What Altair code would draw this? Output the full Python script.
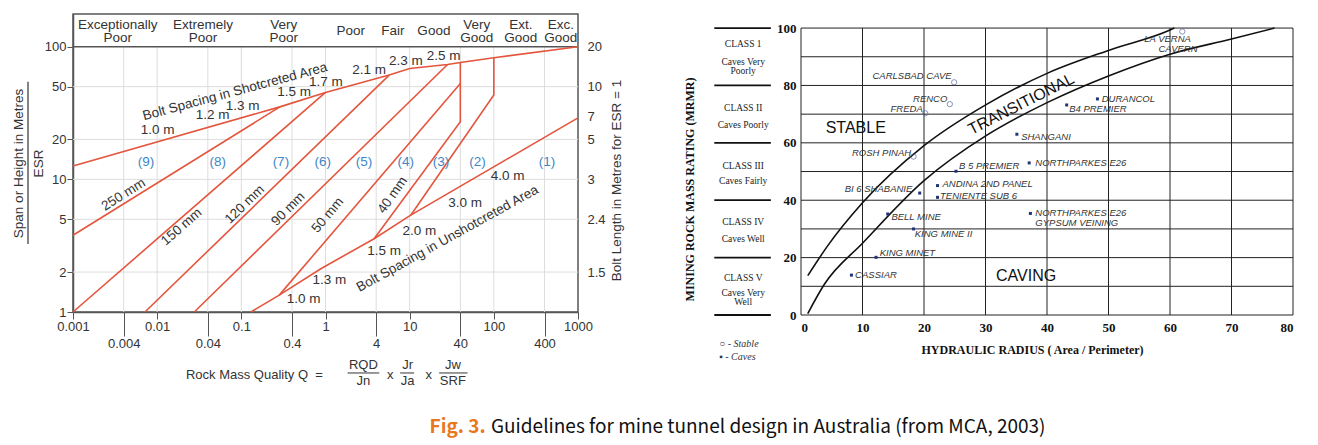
import altair as alt
import pandas as pd

# ================= LEFT PANEL : Q-system support chart =================
Q_TICKS = [0.001, 0.004, 0.01, 0.04, 0.1, 0.4, 1, 4, 10, 40, 100, 400, 1000]
Q_GRID = [0.004, 0.01, 0.04, 0.1, 0.4, 1, 4, 10, 40, 100, 400]
SPAN_TICKS = [1, 2, 5, 10, 20, 50, 100]
SPAN_GRID = [2, 5, 10, 20, 50]
BOLT_AT_SPAN = [2, 5, 10, 20, 30, 50, 100]
BOLT_LENGTH = ["1.5", "2.4", "3", "5", "7", "10", "20"]

UPPER_Q = [0.001, 0.287, 1.0, 5.71, 10.0, 28.2, 40.0, 100.0, 1000.0]
UPPER_S = [12.6, 35.2, 45.2, 61.1, 68.6, 73.5, 76.1, 82.6, 100.0]
LOWER_Q = [0.13, 0.282, 0.88, 3.78, 10.3, 1000.0]
LOWER_S = [1.0, 1.34, 2.12, 3.57, 5.37, 29.1]
L250_Q = [0.001, 0.287]
L250_S = [3.79, 35.2]
L150_Q = [0.001, 1.0]
L150_S = [1.0, 45.2]
L120_Q = [0.00716, 5.71]
L120_S = [1.0, 61.1]
L90_Q = [0.0276, 28.2]
L90_S = [1.0, 73.5]
L50_Q = [0.282, 40.0]
L50_S = [1.34, 52.8]
L40_Q = [3.78, 40.0, 40.0]
L40_S = [3.57, 27.2, 76.1]
L32_Q = [10.3, 100.0, 100.0]
L32_S = [5.37, 43.2, 82.6]

CLASS_NAMES = ["Exceptionally\nPoor", "Extremely\nPoor", "Very\nPoor", "Poor", "Fair",
               "Good", "Very\nGood", "Ext.\nGood", "Exc.\nGood"]
CLASS_Q = [0.0034, 0.035, 0.32, 2.0, 6.3, 19.4, 62.8, 209, 625]
CLASS_S = [146.6, 146.6, 146.6, 132, 132, 132, 146.6, 146.6, 146.6]

REGION_NAMES = ["(9)", "(8)", "(7)", "(6)", "(5)", "(4)", "(3)", "(2)", "(1)"]
REGION_Q = [0.00736, 0.0523, 0.295, 0.93, 2.86, 9.0, 23.5, 64.0, 427]
REGION_S = 13.5

LAB_TEXT = ["Bolt Spacing in Shotcreted Area", "1.0 m", "1.2 m", "1.3 m", "1.5 m", "1.7 m",
            "2.1 m", "2.3 m", "2.5 m", "1.0 m", "1.3 m", "1.5 m", "2.0 m", "3.0 m", "4.0 m",
            "Bolt Spacing in Unshotcreted Area", "250 mm", "150 mm", "120 mm", "90 mm",
            "50 mm", "40 mm"]
LAB_Q = [0.084, 0.0101, 0.0456, 0.1036, 0.425, 1.01, 3.30, 9.02, 25.3, 0.55, 1.11, 4.98,
         13.0, 45.6, 145.6, 28.2, 0.00398, 0.0195, 0.1096, 0.360, 1.06, 6.26]
LAB_S = [45.8, 23.5, 30.5, 35.9, 45.7, 54.4, 66.7, 78.4, 85.1, 1.26, 1.73, 2.87, 4.06,
         6.68, 10.6, 3.57, 7.68, 4.38, 6.46, 5.98, 5.37, 7.60]
LAB_ANGLE = [345, 0, 0, 0, 0, 0, 0, 0, 0, 0, 0, 0, 0, 0, 0, 331, 328, 319, 316, 315, 310, 305]

FORM_TEXT = ["RQD", "Jn", "x", "Jr", "Ja", "x", "Jw", "SRF"]
FORM_Q = [2.82, 2.82, 5.87, 9.44, 9.44, 16.8, 32.6, 32.6]
FORM_S = [0.40, 0.30, 0.337, 0.40, 0.30, 0.337, 0.40, 0.30]
BAR_Q1 = [1.83, 7.71, 22.4]
BAR_Q2 = [4.35, 11.3, 48.8]
BAR_S = 0.347

CAP_FIG = ["Fig. 3."]
CAP_TEXT = ["Guidelines for mine tunnel design in Australia (from MCA, 2003)"]
CAP_Q = [80.0, 92.5]
CAP_S = 0.1355

RED = "#e4553d"
GREY = "#333333"
SANS = "Liberation Sans"

lines_rows = []
for name, qs, ss in [("upper", UPPER_Q, UPPER_S), ("lower", LOWER_Q, LOWER_S),
                     ("250", L250_Q, L250_S), ("150", L150_Q, L150_S),
                     ("120", L120_Q, L120_S), ("90", L90_Q, L90_S),
                     ("50", L50_Q, L50_S), ("40", L40_Q, L40_S), ("32", L32_Q, L32_S)]:
    for i, (q, s) in enumerate(zip(qs, ss)):
        lines_rows.append({"line": name, "ord": i, "Q": q, "S": s})
lines_df = pd.DataFrame(lines_rows)

xs = alt.Scale(type="log", domain=[0.001, 1000], nice=False)
S_DOMAIN = [1, 176.5]

four_test = "indexof([0.004,0.04,0.4,4,40,400], datum.value) >= 0"
x_axis = alt.Axis(values=Q_TICKS, format="~g", grid=False,
                  tickSize={"condition": {"test": four_test, "value": 24}, "value": 7},
                  tickColor="#555", labelPadding=1, labelFont=SANS, labelFontSize=13,
                  labelColor=GREY, domainColor="#555", domainWidth=1.5, labelFlush=False)
y_axis = alt.Axis(orient="left", values=SPAN_TICKS, format="~g", grid=False, tickSize=6,
                  tickColor="#555", labelPadding=1, labelFont=SANS, labelFontSize=13,
                  labelColor=GREY, domainColor="#555", domainWidth=1.5,
                  title=["Span or Height in Metres", "ESR"], titleFont=SANS,
                  titleFontSize=13.5, titleFontWeight="normal", titleColor=GREY,
                  titleAngle=270, titleX=-48, titleY=149, titleBaseline="bottom",
                  titleLineHeight=20, titleAlign="center")
bolt_expr = " : ".join([f"datum.value == {p} ? '{l}'" for p, l in zip(BOLT_AT_SPAN, BOLT_LENGTH)]) + " : ''"
right_axis = alt.Axis(orient="right", values=BOLT_AT_SPAN, labelExpr=bolt_expr, ticks=False,
                      domain=False, grid=False, labelPadding=9, labelFont=SANS, labelFontSize=13,
                      labelColor=GREY, title="Bolt Length in Metres for ESR = 1", titleFont=SANS,
                      titleFontSize=13.5, titleFontWeight="normal", titleColor=GREY, titleAngle=270,
                      titleX=38, titleY=166, titleBaseline="middle", titleAlign="center")


def X(axis=None):
    if axis is None:
        return alt.X("Q:Q", scale=xs, title=None)
    return alt.X("Q:Q", scale=xs, title=None, axis=axis)


def Y(axis=None):
    sc = alt.Scale(type="log", domain=S_DOMAIN, nice=False)
    if axis is None:
        return alt.Y("S:Q", scale=sc, axis=None)
    return alt.Y("S:Q", scale=sc, axis=axis)


gv_df = pd.DataFrame({"Q": Q_GRID, "S": [1] * len(Q_GRID), "S2": [100] * len(Q_GRID)})
gh_df = pd.DataFrame({"S": SPAN_GRID, "Q": [0.001] * len(SPAN_GRID), "Q2": [1000] * len(SPAN_GRID)})
grid_v = alt.Chart(gv_df).mark_rule(color="#dddddd", strokeWidth=1).encode(
    x=X(x_axis), y=Y(y_axis), y2="S2:Q")
grid_h = alt.Chart(gh_df).mark_rule(color="#dddddd", strokeWidth=1).encode(
    x=X(), x2="Q2:Q", y=Y())
head_line = alt.Chart(pd.DataFrame({"Q": [0.001], "Q2": [1000], "S": [100]})).mark_rule(
    color="#555", strokeWidth=1.5).encode(x=X(), x2="Q2:Q", y=Y())
lines = alt.Chart(lines_df).mark_line(color=RED, strokeWidth=1.6).encode(
    x=X(), y=Y(), detail="line:N", order="ord:Q")
lab_df = pd.DataFrame({"txt": LAB_TEXT, "Q": LAB_Q, "S": LAB_S, "ang": LAB_ANGLE})
labels = alt.Chart(lab_df).mark_text(font=SANS, fontSize=13.5, color=GREY).encode(
    x=X(), y=Y(), text="txt:N", angle=alt.Angle("ang:Q", scale=None))
cls_df = pd.DataFrame({"txt": CLASS_NAMES, "Q": CLASS_Q, "S": CLASS_S})
classes = alt.Chart(cls_df).mark_text(font=SANS, fontSize=13.5, color=GREY, lineBreak="\n",
                                      lineHeight=13, baseline="middle").encode(
    x=X(), y=Y(), text="txt:N")
form_df = pd.DataFrame({"txt": FORM_TEXT, "Q": FORM_Q, "S": FORM_S})
formula = alt.Chart(form_df).mark_text(font=SANS, fontSize=13, color=GREY).encode(
    x=X(), y=Y(), text="txt:N")
bars_df = pd.DataFrame({"Q": BAR_Q1, "Q2": BAR_Q2, "S": [BAR_S] * 3})
bars = alt.Chart(bars_df).mark_rule(color=GREY, strokeWidth=1).encode(x=X(), x2="Q2:Q", y=Y())
rmq = alt.Chart(pd.DataFrame({"txt": ["Rock Mass Quality Q\u00a0\u00a0="], "Q": [0.93], "S": [0.337]})).mark_text(
    font=SANS, fontSize=13, color=GREY, align="right").encode(x=X(), y=Y(), text="txt:N")
frac = alt.Chart(pd.DataFrame({"Q": [0.000292], "S": [54.5], "S2": [3.26]})).mark_rule(
    color=GREY, strokeWidth=1.2).encode(x=X(), y=Y(), y2="S2:Q")
reg_df = pd.DataFrame({"txt": REGION_NAMES, "Q": REGION_Q, "S": [REGION_S] * len(REGION_Q)})
regions = alt.Chart(reg_df).mark_text(font=SANS, fontSize=13.5, color="#3f86c6").encode(
    x=X(), y=Y(right_axis), text="txt:N")
cap_a = alt.Chart(pd.DataFrame({"t": CAP_FIG, "Q": CAP_Q[:1], "S": [CAP_S]})).mark_text(
    font="Noto Sans CJK KR", fontSize=19, fontWeight="bold", color="#e8771e", align="right").encode(
    x=X(), y=Y(), text="t:N")
cap_b = alt.Chart(pd.DataFrame({"t": CAP_TEXT, "Q": CAP_Q[1:], "S": [CAP_S]})).mark_text(
    font="Noto Sans CJK KR", fontSize=19, color="#111", align="left").encode(
    x=X(), y=Y(), text="t:N")

left = alt.layer(grid_v, grid_h, head_line, lines, labels, classes, formula, bars, rmq, frac,
                 regions, cap_a, cap_b).resolve_scale(y="independent").properties(
    width=505, height=298, view=alt.ViewBackground(stroke="#555", strokeWidth=1.5))

# ================= RIGHT PANEL : Laubscher stability graph =================
HR_TICKS = [0, 10, 20, 30, 40, 50, 60, 70, 80]
MRMR_TICKS = [0, 10, 20, 30, 40, 50, 60, 70, 80, 90, 100]
UP_HR = [1.1, 4.3, 10.0, 20.0, 30.1, 40.1, 50.1, 60.0, 60.7]
UP_M = [13.7, 24.0, 39.1, 59.0, 73.3, 84.3, 92.3, 99.3, 100.0]
LO_HR = [1.1, 3.8, 10.0, 20.0, 30.1, 40.1, 50.1, 60.0, 70.0, 77.0]
LO_M = [0.5, 10.7, 25.0, 46.8, 62.5, 74.1, 83.4, 90.9, 96.2, 100.0]

STABLE_HR = [24.9, 24.2, 20.2, 18.3, 62.0]
STABLE_M = [81.1, 73.5, 70.3, 55.2, 98.8]
CAVE_HR = [8.2, 12.2, 18.3, 14.1, 19.3, 22.2, 22.2, 25.2, 37.1, 37.3, 35.1, 43.2, 48.2]
CAVE_M = [13.9, 20.1, 30.0, 35.2, 42.5, 41.0, 45.1, 50.1, 53.0, 35.4, 63.0, 73.2, 75.3]

NAME_R = ["CARLSBAD CAVE", "RENCO", "FREDA", "ROSH PINAH", "BI 6 SHABANIE"]
NAME_R_HR = [24.5, 23.8, 19.8, 17.9, 18.1]
NAME_R_M = [83.4, 75.3, 71.8, 56.3, 43.9]
NAME_L = ["CASSIAR", "KING MINET", "KING MINE II", "BELL MINE", "ANDINA 2ND PANEL",
          "TENIENTE SUB 6", "B 5 PREMIER", "NORTHPARKES E26", "NORTHPARKES E26",
          "GYPSUM VEINING", "SHANGANI", "B4 PREMIER", "DURANCOL"]
NAME_L_HR = [8.8, 12.8, 18.5, 14.7, 23.0, 22.6, 25.7, 38.1, 38.1, 38.1, 35.8, 43.6, 48.9]
NAME_L_M = [13.9, 21.6, 28.2, 34.0, 45.6, 41.3, 51.8, 52.8, 35.4, 32.1, 61.9, 71.8, 75.3]
NAME_C = ["LA VERNA", "CAVERN"]
NAME_C_HR = [59.6, 61.3]
NAME_C_M = [96.2, 92.7]

ZONE_TEXT = ["STABLE", "CAVING", "TRANSITIONAL"]
ZONE_HR = [8.9, 36.6, 35.8]
ZONE_M = [65.2, 13.7, 73.5]
ZONE_ANGLE = [0, 0, 333]

CLASS_BOUNDS = [100, 80, 60, 40, 20, 0]
CLASS_TEXT = ["CLASS 1", "Caves Very", "Poorly", "CLASS II", "Caves Poorly", "CLASS III",
              "Caves Fairly", "CLASS IV", "Caves Well", "CLASS V", "Caves Very", "Well"]
CLASS_TEXT_M = [94.3, 88.3, 85.0, 72.2, 66.2, 51.9, 46.7, 32.5, 26.4, 13.0, 7.8, 4.6]
LEGEND_TEXT = ["\u25cb - Stable", "\u25aa - Caves"]
LEGEND_M = [-10.2, -14.5]

SERIF = "Liberation Serif"
HX_TITLE = "HYDRAULIC RADIUS  ( Area / Perimeter)"
MY_TITLE = "MINING ROCK MASS RATING (MRMR)"
hsc = alt.Scale(domain=[0, 80], nice=False)
msc = alt.Scale(domain=[0, 104.9], nice=False)

hx_axis = alt.Axis(values=HR_TICKS, grid=False, ticks=False, domain=False, labelPadding=6,
                   labelFont=SERIF, labelFontWeight="bold", labelFontSize=13, labelColor="#111",
                   titleFont=SERIF, titleFontSize=12, titleFontWeight="bold", titleColor="#111",
                   titleX=231, titleY=34, titleBaseline="middle", titleAlign="center")
my_axis = alt.Axis(values=MRMR_TICKS, grid=False, ticks=False, domain=False, labelPadding=5,
                   labelFont=SERIF, labelFontWeight="bold", labelFontSize=13, labelColor="#111",
                   titleFont=SERIF, titleFontSize=12, titleFontWeight="bold", titleColor="#111",
                   titleAngle=270, titleX=-112, titleY=175, titleBaseline="middle",
                   titleAlign="center")


def HX(axis=None):
    if axis is None:
        return alt.X("hr:Q", scale=hsc, title=HX_TITLE)
    return alt.X("hr:Q", scale=hsc, title=HX_TITLE, axis=axis)


def MY(axis=None):
    if axis is None:
        return alt.Y("m:Q", scale=msc, title=MY_TITLE)
    return alt.Y("m:Q", scale=msc, title=MY_TITLE, axis=axis)


gvr = alt.Chart(pd.DataFrame({"hr": HR_TICKS, "m": [0] * 9, "m2": [100] * 9})).mark_rule(
    color="#222", strokeWidth=1).encode(x=HX(hx_axis), y=MY(my_axis), y2="m2:Q")
ghr = alt.Chart(pd.DataFrame({"m": MRMR_TICKS, "hr": [0] * 11, "hr2": [80] * 11})).mark_rule(
    color="#222", strokeWidth=1).encode(x=HX(), x2="hr2:Q", y=MY())
curve_rows = []
for name, hs, ms in [("up", UP_HR, UP_M), ("lo", LO_HR, LO_M)]:
    for i, (h, m) in enumerate(zip(hs, ms)):
        curve_rows.append({"c": name, "ord": i, "hr": h, "m": m})
curves = alt.Chart(pd.DataFrame(curve_rows)).mark_line(
    color="#111", strokeWidth=1.6, interpolate="monotone").encode(
    x=HX(), y=MY(), detail="c:N", order="ord:Q")
stable = alt.Chart(pd.DataFrame({"hr": STABLE_HR, "m": STABLE_M})).mark_point(
    shape="circle", size=28, filled=False, color="#5566a0", strokeWidth=1).encode(x=HX(), y=MY())
caves = alt.Chart(pd.DataFrame({"hr": CAVE_HR, "m": CAVE_M})).mark_point(
    shape="square", size=9, filled=True, color="#223377", opacity=1).encode(x=HX(), y=MY())
txt_style = dict(font=SANS, fontSize=9.5, fontStyle="italic", color="#333")
lab_r = alt.Chart(pd.DataFrame({"t": NAME_R, "hr": NAME_R_HR, "m": NAME_R_M})).mark_text(
    align="right", **txt_style).encode(x=HX(), y=MY(), text="t:N")
lab_l = alt.Chart(pd.DataFrame({"t": NAME_L, "hr": NAME_L_HR, "m": NAME_L_M})).mark_text(
    align="left", **txt_style).encode(x=HX(), y=MY(), text="t:N")
lab_c = alt.Chart(pd.DataFrame({"t": NAME_C, "hr": NAME_C_HR, "m": NAME_C_M})).mark_text(
    align="center", **txt_style).encode(x=HX(), y=MY(), text="t:N")
zones = alt.Chart(pd.DataFrame({"t": ZONE_TEXT, "hr": ZONE_HR, "m": ZONE_M, "a": ZONE_ANGLE})).mark_text(
    font=SANS, fontSize=16, color="#111").encode(
    x=HX(), y=MY(), text="t:N", angle=alt.Angle("a:Q", scale=None))
cb_df = pd.DataFrame({"hr": [-14.1] * 6, "hr2": [-4.9] * 6, "m": CLASS_BOUNDS})
class_rules = alt.Chart(cb_df).mark_rule(color="#111", strokeWidth=1.8).encode(
    x=HX(), x2="hr2:Q", y=MY())
class_txt = alt.Chart(pd.DataFrame({"t": CLASS_TEXT, "hr": [-9.4] * len(CLASS_TEXT),
                                    "m": CLASS_TEXT_M})).mark_text(
    font=SERIF, fontSize=9.5, color="#222").encode(x=HX(), y=MY(), text="t:N")
legend_txt = alt.Chart(pd.DataFrame({"t": LEGEND_TEXT, "hr": [-13.3, -13.3], "m": LEGEND_M})).mark_text(
    font=SERIF, fontSize=10, fontStyle="italic", color="#334", align="left").encode(
    x=HX(), y=MY(), text="t:N")

right = alt.layer(gvr, ghr, curves, stable, caves, lab_r, lab_l, lab_c, zones, class_rules,
                  class_txt, legend_txt).properties(
    width=492, height=301, view=alt.ViewBackground(stroke="transparent"))

chart = alt.hconcat(left, right, spacing=223, bounds="flush").properties(
    padding={"left": 2, "top": 5, "right": 5, "bottom": 5}
).configure(font=SANS)

chart.save("out.html", embed_options={"renderer": "svg", "actions": False})
